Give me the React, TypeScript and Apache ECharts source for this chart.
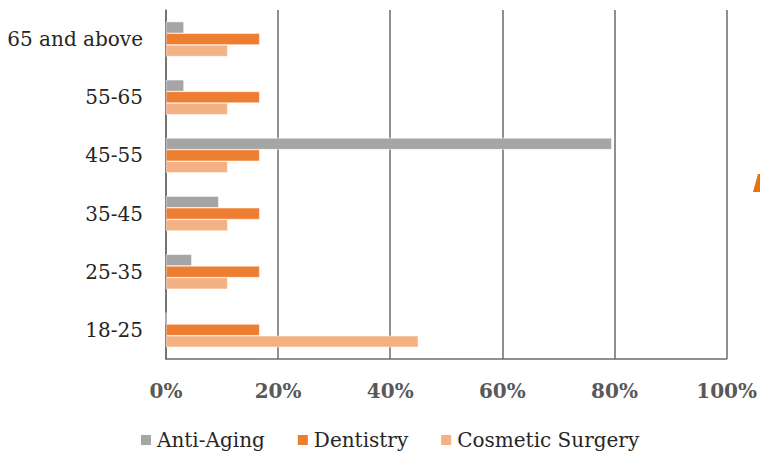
import React, { useEffect, useRef } from "react";
import * as echarts from "echarts";

const categories = ["18-25", "25-35", "35-45", "45-55", "55-65", "65 and above"];
const antiAging = [0, 4.6, 9.4, 79.5, 3.2, 3.2];
const dentistry = [16.7, 16.7, 16.7, 16.7, 16.7, 16.7];
const cosmeticSurgery = [45, 11, 11, 11, 11, 11];
const xTicks = [0, 20, 40, 60, 80, 100];

export default function App() {
  const ref = useRef<HTMLDivElement>(null);
  useEffect(() => {
    if (!ref.current) return;
    const chart = echarts.init(ref.current, null, { renderer: "svg" });
    const font = "DejaVu Serif";
    const lineColor = "#6b6b6b";
    chart.setOption({
      animation: false,
      textStyle: { fontFamily: font },
      grid: { left: 166, right: 33, top: 10, bottom: 95, containLabel: false },
      legend: {
        top: 425,
        left: 134,
        itemWidth: 12,
        itemHeight: 12,
        itemGap: 31,
        icon: "rect",
        textStyle: { fontFamily: font, fontSize: 20, color: "#262626" },
        data: ["Anti-Aging", "Dentistry", "Cosmetic Surgery"],
      },
      xAxis: {
        type: "value",
        min: xTicks[0],
        max: xTicks[xTicks.length - 1],
        interval: 20,
        axisLine: { show: true, lineStyle: { color: lineColor, width: 1.5 } },
        axisTick: { show: false },
        splitLine: { show: true, lineStyle: { color: lineColor, width: 1.5 } },
        axisLabel: {
          formatter: "{value}%",
          fontFamily: font,
          fontSize: 20,
          fontWeight: "bold",
          color: "#595959",
          margin: 22,
        },
      },
      yAxis: {
        type: "category",
        data: categories,
        axisLine: { show: true, lineStyle: { color: lineColor, width: 1.5 } },
        axisTick: { show: false },
        axisLabel: { fontFamily: font, fontSize: 20, color: "#262626", margin: 23 },
      },
      series: [
        {
          name: "Anti-Aging",
          type: "bar",
          data: antiAging,
          itemStyle: { color: "#A5A5A5", borderColor: "#fff", borderWidth: 0.5 },
          barGap: "0%",
          barCategoryGap: "40%",
        },
        {
          name: "Dentistry",
          type: "bar",
          data: dentistry,
          itemStyle: { color: "#ED7D31", borderColor: "#fff", borderWidth: 0.5 },
        },
        {
          name: "Cosmetic Surgery",
          type: "bar",
          data: cosmeticSurgery,
          itemStyle: { color: "#F4B183", borderColor: "#fff", borderWidth: 0.5 },
        },
      ],
      graphic: [
        {
          type: "polygon",
          shape: { points: [[753, 192], [758, 174], [762, 174], [762, 192]] },
          style: { fill: "#E8710F" },
        },
      ],
    });
    return () => chart.dispose();
  }, []);
  return <div ref={ref} style={{ width: 760, height: 454, position: "absolute", left: 0, top: 0 }} />;
}
